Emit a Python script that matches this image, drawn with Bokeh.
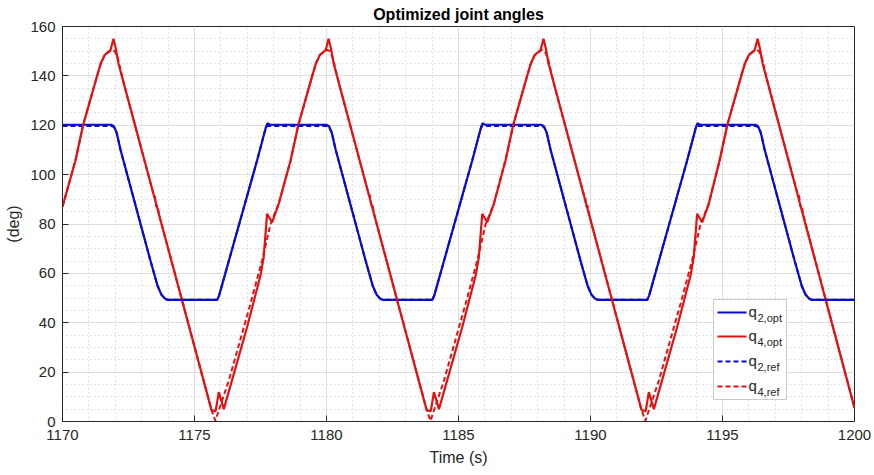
from bokeh.plotting import figure
from bokeh.models import (Range1d, SingleIntervalTicker, Label, BoxAnnotation, Arrow)
from bokeh.embed import file_html
from bokeh.resources import INLINE

# ---------------- data ----------------
t_q4_opt = [1170.00, 1170.49, 1170.78, 1171.31, 1171.45, 1171.60, 1171.72, 1171.82, 1171.93, 1172.02, 1172.12,
            1175.64, 1175.67, 1175.80, 1175.92, 1176.11, 1176.49, 1176.99, 1177.50, 1177.62, 1177.75, 1177.94, 1178.19,
            1178.64, 1178.93, 1179.46, 1179.60, 1179.75, 1179.87, 1179.97, 1180.08, 1180.17, 1180.27,
            1183.79, 1183.82, 1183.95, 1184.07, 1184.26, 1184.64, 1185.14, 1185.65, 1185.77, 1185.90, 1186.09, 1186.34,
            1186.78, 1187.07, 1187.60, 1187.74, 1187.89, 1188.01, 1188.11, 1188.22, 1188.31, 1188.41,
            1191.93, 1191.96, 1192.09, 1192.21, 1192.40, 1192.78, 1193.28, 1193.79, 1193.91, 1194.04, 1194.23, 1194.48,
            1194.89, 1195.18, 1195.71, 1195.85, 1196.00, 1196.12, 1196.22, 1196.33, 1196.42, 1196.52,
            1200.00]
q4_opt = [87.0, 105.7, 120.0, 140.0, 145.0, 148.5, 149.5, 150.5, 155.0, 151.0, 145.0,
          4.8, 4.5, 4.2, 11.9, 5.0, 19.3, 38.2, 59.1, 66.5, 84.1, 80.7, 88.2,
          105.7, 120.0, 140.0, 145.0, 148.5, 149.5, 150.5, 155.0, 151.0, 145.0,
          4.8, 4.5, 4.2, 11.9, 5.0, 19.3, 38.2, 59.1, 66.5, 84.1, 80.7, 88.2,
          105.7, 120.0, 140.0, 145.0, 148.5, 149.5, 150.5, 155.0, 151.0, 145.0,
          4.8, 4.5, 4.2, 11.9, 5.0, 19.3, 38.2, 59.1, 66.5, 84.1, 80.7, 88.2,
          105.7, 120.0, 140.0, 145.0, 148.5, 149.5, 150.5, 155.0, 151.0, 145.0,
          5.5]

t_q4_ref = [1170.00, 1170.49, 1170.78, 1171.31, 1171.45, 1171.60, 1171.72, 1171.88, 1171.98, 1172.10, 1172.22, 1172.35,
            1173.45, 1173.50, 1173.55, 1173.60, 1173.66,
            1175.64, 1175.79, 1176.30, 1177.12, 1177.56, 1177.88, 1178.19,
            1178.64, 1178.93, 1179.46, 1179.60, 1179.75, 1179.87, 1180.03, 1180.13, 1180.25, 1180.37, 1180.50,
            1181.60, 1181.65, 1181.70, 1181.75, 1181.81,
            1183.79, 1183.94, 1184.45, 1185.27, 1185.71, 1186.03, 1186.34,
            1186.78, 1187.07, 1187.60, 1187.74, 1187.89, 1188.01, 1188.17, 1188.27, 1188.39, 1188.51, 1188.64,
            1189.74, 1189.79, 1189.84, 1189.89, 1189.95,
            1191.93, 1192.08, 1192.59, 1193.41, 1193.85, 1194.17, 1194.48,
            1194.89, 1195.18, 1195.71, 1195.85, 1196.00, 1196.12, 1196.28, 1196.38, 1196.50, 1196.62, 1196.75,
            1197.85, 1197.90, 1197.95, 1198.00, 1198.06,
            1200.00]
q4_ref = [87.0, 105.7, 120.0, 140.0, 145.0, 148.5, 149.5, 150.5, 150.0, 147.0, 141.5, 135.8,
          92.0, 91.5, 87.0, 87.5, 83.7,
          4.8, 0.3, 16.6, 47.7, 65.2, 80.0, 88.2,
          105.7, 120.0, 140.0, 145.0, 148.5, 149.5, 150.5, 150.0, 147.0, 141.5, 135.8,
          92.0, 91.5, 87.0, 87.5, 83.7,
          4.8, 0.3, 16.6, 47.7, 65.2, 80.0, 88.2,
          105.7, 120.0, 140.0, 145.0, 148.5, 149.5, 150.5, 150.0, 147.0, 141.5, 135.8,
          92.0, 91.5, 87.0, 87.5, 83.7,
          4.8, 0.3, 16.6, 47.7, 65.2, 80.0, 88.2,
          105.7, 120.0, 140.0, 145.0, 148.5, 149.5, 150.5, 150.0, 147.0, 141.5, 135.8,
          92.0, 91.5, 87.0, 87.5, 83.7,
          5.5]

t_q2 = [1170.00, 1171.85, 1171.95, 1172.05, 1172.20, 1173.33, 1173.60, 1173.75, 1173.88, 1173.97,
        1175.86, 1175.93, 1177.37, 1177.70, 1177.76, 1177.85,
        1180.00, 1180.10, 1180.20, 1180.35, 1181.48, 1181.75, 1181.90, 1182.03, 1182.12,
        1184.01, 1184.08, 1185.52, 1185.85, 1185.91, 1186.00,
        1188.14, 1188.24, 1188.34, 1188.49, 1189.62, 1189.89, 1190.04, 1190.17, 1190.26,
        1192.15, 1192.22, 1193.66, 1193.99, 1194.05, 1194.14,
        1196.25, 1196.35, 1196.45, 1196.60, 1197.73, 1198.00, 1198.15, 1198.28, 1198.37,
        1200.00]
q2_opt = [120.2, 120.2, 119.5, 117.0, 110.0, 65.2, 55.0, 51.3, 49.8, 49.3,
          49.3, 51.0, 105.7, 119.0, 120.8, 120.2,
          120.2, 119.5, 117.0, 110.0, 65.2, 55.0, 51.3, 49.8, 49.3,
          49.3, 51.0, 105.7, 119.0, 120.8, 120.2,
          120.2, 119.5, 117.0, 110.0, 65.2, 55.0, 51.3, 49.8, 49.3,
          49.3, 51.0, 105.7, 119.0, 120.8, 120.2,
          120.2, 119.5, 117.0, 110.0, 65.2, 55.0, 51.3, 49.8, 49.3,
          49.3]
q2_ref = [119.7, 119.7, 119.3, 117.0, 110.0, 65.2, 55.0, 51.3, 49.8, 49.3,
          49.3, 51.0, 105.7, 119.0, 119.7, 119.7,
          119.7, 119.3, 117.0, 110.0, 65.2, 55.0, 51.3, 49.8, 49.3,
          49.3, 51.0, 105.7, 119.0, 119.7, 119.7,
          119.7, 119.3, 117.0, 110.0, 65.2, 55.0, 51.3, 49.8, 49.3,
          49.3, 51.0, 105.7, 119.0, 119.7, 119.7,
          119.7, 119.3, 117.0, 110.0, 65.2, 55.0, 51.3, 49.8, 49.3,
          49.3]

x_start, x_end, x_step = 1170, 1200, 5
y_start, y_end, y_step = 0, 160, 20

title_text = "Optimized joint angles"
x_label = "Time (s)"
y_label = "(deg)"
legend_main = ["q", "q", "q", "q"]
legend_sub = ["2,opt", "4,opt", "2,ref", "4,ref"]

# ---------------- styling ----------------
FONT = "Liberation Sans"
TXT = "#262626"
BLUE = "#0a0ad2"
RED = "#e01212"

p = figure(width=874, height=475, output_backend="svg", toolbar_location=None,
           x_range=Range1d(x_start, x_end), y_range=Range1d(y_start, y_end),
           min_border_left=62, min_border_right=20, min_border_top=26, min_border_bottom=54,
           background_fill_color="white", border_fill_color="white")
p.outline_line_color = TXT
p.outline_line_width = 1

# title
p.title.text = title_text
p.title.text_font = FONT
p.title.text_font_size = "16px"
p.title.text_font_style = "bold"
p.title.text_color = "black"
p.title.align = "center"
p.title.standoff = 7
p.title.offset = 0

xt = SingleIntervalTicker(interval=x_step, num_minor_ticks=5)
yt = SingleIntervalTicker(interval=y_step, num_minor_ticks=4)

for ax, tk in ((p.xaxis[0], xt), (p.yaxis[0], yt)):
    ax.ticker = tk
    ax.major_tick_in = 6
    ax.major_tick_out = 0
    ax.minor_tick_in = 0
    ax.minor_tick_out = 0
    ax.axis_line_color = TXT
    ax.major_tick_line_color = TXT
    ax.major_label_text_font = FONT
    ax.major_label_text_font_size = "15px"
    ax.major_label_text_color = TXT
    ax.axis_label_text_font = FONT
    ax.axis_label_text_font_size = "16px"
    ax.axis_label_text_font_style = "normal"
    ax.axis_label_text_color = TXT

p.xaxis[0].axis_label = x_label
p.yaxis[0].axis_label = y_label
p.xaxis[0].major_label_standoff = 8
p.xaxis[0].axis_label_standoff = 6
p.yaxis[0].major_label_standoff = 7
p.yaxis[0].axis_label_standoff = 5

for g in (p.xgrid[0], p.ygrid[0]):
    g.grid_line_color = "#dedede"
    g.grid_line_width = 1
    g.minor_grid_line_color = "#c8c8c8"
    g.minor_grid_line_dash = "1 3"
    g.minor_grid_line_width = 1

# ---------------- lines ----------------
p.line(t_q2, q2_opt, line_color=BLUE, line_width=2.2)
p.line(t_q4_opt, q4_opt, line_color=RED, line_width=2.2)
p.line(t_q2, q2_ref, line_color=BLUE, line_width=2.0, line_dash="5 3")
p.line(t_q4_ref, q4_ref, line_color=RED, line_width=2.0, line_dash="5 3")

# ---------------- legend (manual, with subscripts) ----------------
p.add_layout(BoxAnnotation(left=651, right=724, bottom=22, top=122,
                           left_units="screen", right_units="screen",
                           top_units="screen", bottom_units="screen",
                           fill_color="white", fill_alpha=1.0,
                           line_color=TXT, line_width=0.8))
row_y = [109, 85, 60, 35]
styles = [(BLUE, "solid"), (RED, "solid"), (BLUE, "5 3"), (RED, "5 3")]
for yy, (c, d), m, s in zip(row_y, styles, legend_main, legend_sub):
    p.add_layout(Arrow(end=None, x_start=655, y_start=yy, x_end=684, y_end=yy,
                       start_units="screen", end_units="screen",
                       line_color=c, line_width=2.2, line_dash=d))
    p.add_layout(Label(x=686, y=yy + 1, x_units="screen", y_units="screen", text=m,
                       text_font=FONT, text_font_size="15px", text_color=TXT,
                       text_baseline="middle"))
    p.add_layout(Label(x=695, y=yy - 5, x_units="screen", y_units="screen", text=s,
                       text_font=FONT, text_font_size="11px", text_color=TXT,
                       text_baseline="middle"))

open("out.html", "w").write(file_html(p, INLINE))
